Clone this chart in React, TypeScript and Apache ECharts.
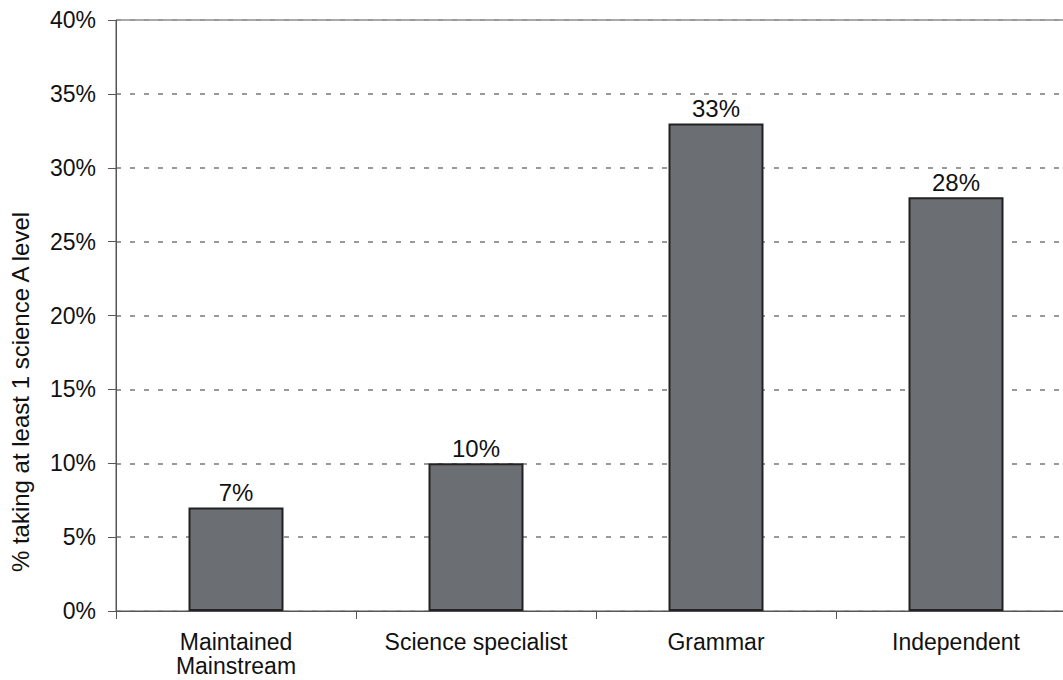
import React, { useEffect, useRef } from "react";
import * as echarts from "echarts";

const categories = ["Maintained\nMainstream", "Science specialist", "Grammar", "Independent"];
const values = [7, 10, 33, 28];
const yTicks = { min: 0, max: 40, interval: 5 };
const yAxisTitle = "% taking at least 1 science A level";

export default function App() {
  const ref = useRef<HTMLDivElement>(null);
  useEffect(() => {
    if (!ref.current) return;
    const chart = echarts.init(ref.current, undefined, { renderer: "svg" });
    const font = "'Liberation Sans', Arial, sans-serif";
    chart.setOption({
      animation: false,
      backgroundColor: "#ffffff",
      grid: {
        left: 116,
        top: 20,
        width: 960,
        height: 591,
        show: true,
        borderColor: "#555",
        borderWidth: 1,
        containLabel: false,
      },
      graphic: [
        {
          type: "text",
          x: 20,
          y: 392,
          rotation: Math.PI / 2,
          style: {
            text: yAxisTitle,
            fill: "#111",
            font: "24px " + font,
            align: "center",
            verticalAlign: "middle",
          },
        },
      ],
      xAxis: {
        type: "category",
        data: categories,
        axisLine: { lineStyle: { color: "#555", width: 1 } },
        axisTick: { show: true, alignWithLabel: false, length: 8, lineStyle: { color: "#555" } },
        axisLabel: {
          color: "#111",
          fontFamily: font,
          fontSize: 23,
          lineHeight: 24,
          margin: 19,
          interval: 0,
        },
        splitLine: { show: false },
      },
      yAxis: {
        type: "value",
        min: yTicks.min,
        max: yTicks.max,
        interval: yTicks.interval,
        axisLine: { show: true, lineStyle: { color: "#555", width: 1 } },
        axisTick: { show: true, length: 8, lineStyle: { color: "#555" } },
        axisLabel: {
          color: "#111",
          fontFamily: font,
          fontSize: 23,
          margin: 20,
          formatter: (v: number) => v + "%",
        },
        splitLine: {
          show: true,
          lineStyle: { color: "#999", width: 2, type: [5, 9] },
        },
      },
      series: [
        {
          type: "bar",
          data: values,
          barWidth: 95,
          itemStyle: { color: "#6b6e73", borderColor: "#222", borderWidth: 2 },
          label: {
            show: true,
            position: "top",
            distance: 3,
            color: "#111",
            fontFamily: font,
            fontSize: 24,
            formatter: (p: any) => p.value + "%",
          },
        },
      ],
    });
    return () => chart.dispose();
  }, []);
  return (
    <div
      style={{
        position: "fixed",
        left: 0,
        top: 0,
        width: 1063,
        height: 680,
        overflow: "hidden",
        background: "#fff",
      }}
    >
      <div ref={ref} style={{ width: 1100, height: 680 }} />
    </div>
  );
}
